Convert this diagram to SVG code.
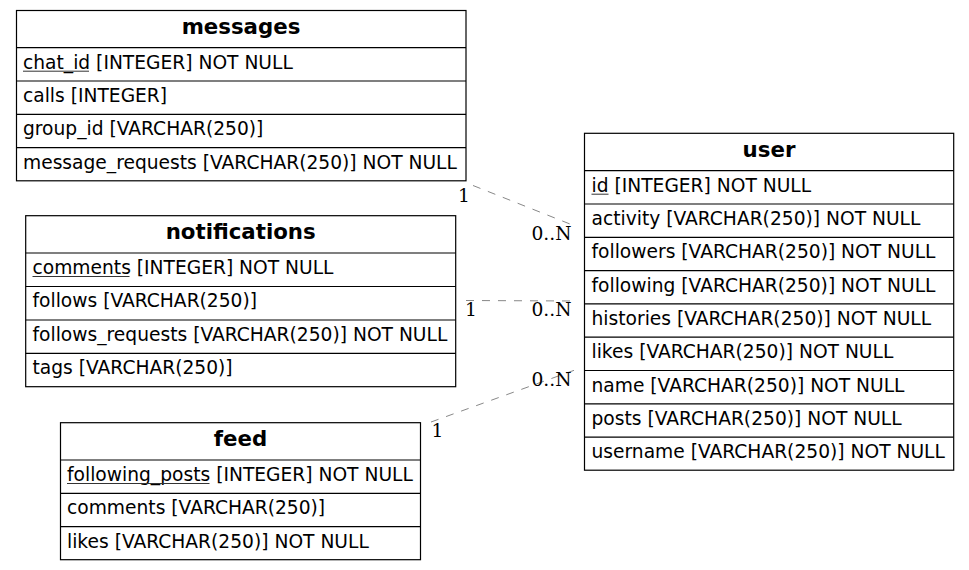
<svg xmlns="http://www.w3.org/2000/svg" width="969" height="570" viewBox="0 0 969 570">
<style>
.box{fill:#fff;stroke:#000;stroke-width:1.2}
.sep{stroke:#000;stroke-width:1.2}
.hd{font-family:"DejaVu Sans",sans-serif;font-weight:bold;font-size:21.3px;text-anchor:middle;fill:#000}
.rw{font-family:"DejaVu Sans",sans-serif;font-size:18.67px;fill:#000}
.ul{stroke:#333;stroke-width:1}
.edge{fill:none;stroke:#888;stroke-width:1;stroke-dasharray:8,8}
.lb{font-family:"DejaVu Serif",serif;font-size:18.67px;fill:#000}
</style>
<rect width="969" height="570" fill="#fff"/>
<g id="connectors">
<path class="edge" d="M473,185.5 L575,226"/>
<path class="edge" d="M466,300.5 L575,301"/>
<path class="edge" d="M431,422 L575,370"/>
<text class="lb" x="458" y="201.5">1</text>
<text class="lb" x="531.5" y="239.5">0..N</text>
<text class="lb" x="465" y="316">1</text>
<text class="lb" x="531.5" y="316">0..N</text>
<text class="lb" x="431.5" y="437">1</text>
<text class="lb" x="531.5" y="386">0..N</text>
</g>
<g id="messages">
<rect class="box" x="16.5" y="10.5" width="449.5" height="170.3"/>
<line class="sep" x1="16.5" y1="47.7" x2="466" y2="47.7"/>
<line class="sep" x1="16.5" y1="81" x2="466" y2="81"/>
<line class="sep" x1="16.5" y1="114.3" x2="466" y2="114.3"/>
<line class="sep" x1="16.5" y1="147.6" x2="466" y2="147.6"/>
<text class="hd" x="241" y="34">messages</text>
<text class="rw" x="23" y="68.7">chat_id [INTEGER] NOT NULL</text>
<line class="ul" x1="23" y1="71.2" x2="89" y2="71.2"/>
<text class="rw" x="23" y="102">calls [INTEGER]</text>
<text class="rw" x="23" y="135.3">group_id [VARCHAR(250)]</text>
<text class="rw" x="23" y="168.6">message_requests [VARCHAR(250)] NOT NULL</text>
</g>
<g id="notifications">
<rect class="box" x="25.7" y="215.7" width="430" height="171"/>
<line class="sep" x1="25.7" y1="253" x2="455.7" y2="253"/>
<line class="sep" x1="25.7" y1="286.5" x2="455.7" y2="286.5"/>
<line class="sep" x1="25.7" y1="320" x2="455.7" y2="320"/>
<line class="sep" x1="25.7" y1="353.3" x2="455.7" y2="353.3"/>
<text class="hd" x="240.7" y="239">notifications</text>
<text class="rw" x="32.5" y="274">comments [INTEGER] NOT NULL</text>
<line class="ul" x1="32.5" y1="276.5" x2="129.5" y2="276.5"/>
<text class="rw" x="32.5" y="307.4">follows [VARCHAR(250)]</text>
<text class="rw" x="32.5" y="340.8">follows_requests [VARCHAR(250)] NOT NULL</text>
<text class="rw" x="32.5" y="374.1">tags [VARCHAR(250)]</text>
</g>
<g id="feed">
<rect class="box" x="60.5" y="422.7" width="360" height="137"/>
<line class="sep" x1="60.5" y1="460" x2="420.5" y2="460"/>
<line class="sep" x1="60.5" y1="493.3" x2="420.5" y2="493.3"/>
<line class="sep" x1="60.5" y1="526.7" x2="420.5" y2="526.7"/>
<text class="hd" x="240.5" y="446">feed</text>
<text class="rw" x="67" y="481">following_posts [INTEGER] NOT NULL</text>
<line class="ul" x1="67" y1="483.5" x2="209.5" y2="483.5"/>
<text class="rw" x="67" y="514.3">comments [VARCHAR(250)]</text>
<text class="rw" x="67" y="547.6">likes [VARCHAR(250)] NOT NULL</text>
</g>
<g id="user">
<rect class="box" x="584.5" y="133.3" width="369.2" height="336.9"/>
<line class="sep" x1="584.5" y1="170.7" x2="953.7" y2="170.7"/>
<line class="sep" x1="584.5" y1="204" x2="953.7" y2="204"/>
<line class="sep" x1="584.5" y1="237.3" x2="953.7" y2="237.3"/>
<line class="sep" x1="584.5" y1="270.6" x2="953.7" y2="270.6"/>
<line class="sep" x1="584.5" y1="303.9" x2="953.7" y2="303.9"/>
<line class="sep" x1="584.5" y1="337.2" x2="953.7" y2="337.2"/>
<line class="sep" x1="584.5" y1="370.5" x2="953.7" y2="370.5"/>
<line class="sep" x1="584.5" y1="403.8" x2="953.7" y2="403.8"/>
<line class="sep" x1="584.5" y1="437.1" x2="953.7" y2="437.1"/>
<text class="hd" x="769" y="157">user</text>
<text class="rw" x="591.5" y="191.7">id [INTEGER] NOT NULL</text>
<line class="ul" x1="591.5" y1="194.2" x2="608.5" y2="194.2"/>
<text class="rw" x="591.5" y="225">activity [VARCHAR(250)] NOT NULL</text>
<text class="rw" x="591.5" y="258.3">followers [VARCHAR(250)] NOT NULL</text>
<text class="rw" x="591.5" y="291.6">following [VARCHAR(250)] NOT NULL</text>
<text class="rw" x="591.5" y="324.9">histories [VARCHAR(250)] NOT NULL</text>
<text class="rw" x="591.5" y="358.2">likes [VARCHAR(250)] NOT NULL</text>
<text class="rw" x="591.5" y="391.5">name [VARCHAR(250)] NOT NULL</text>
<text class="rw" x="591.5" y="424.8">posts [VARCHAR(250)] NOT NULL</text>
<text class="rw" x="591.5" y="458.1">username [VARCHAR(250)] NOT NULL</text>
</g>
</svg>
